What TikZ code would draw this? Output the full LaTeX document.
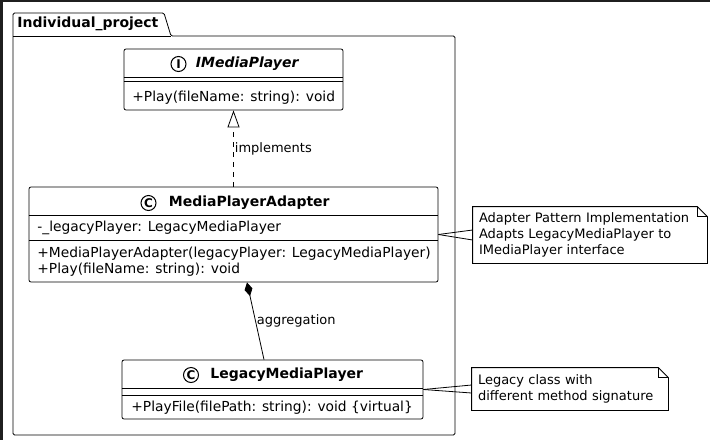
\documentclass[tikz,border=0pt]{standalone}
\usepackage{fontspec}
\setmainfont{DejaVu Sans}
\usetikzlibrary{positioning,arrows.meta}

\begin{document}
\begin{tikzpicture}[
    x=1pt, y=-1pt,
    line width=0.8pt,
    every node/.style={inner sep=0pt, font=\fontsize{13.8}{16}\selectfont},
    cls/.style={draw, rounded corners=2pt},
    icon/.style={draw, circle, line width=1pt, minimum size=15pt, font=\bfseries\fontsize{12}{12}\selectfont},
    small/.style={font=\fontsize{13}{16}\selectfont},
    notebox/.style={align=left, inner xsep=6pt, small}
]
\useasboundingbox (0,0) rectangle (710,440);
\fill[black!88] (0,0) rectangle (710,2);
\fill[black!88] (0,0) rectangle (3,440);

% 包
\draw[rounded corners=1.5pt] (13,435) -- (13,13) -- (164,13) -- (171,36) -- (455,36) -- (455,435) -- cycle;
\draw (13,36) -- (171,36);
\node[anchor=west, font=\bfseries\fontsize{14}{16}\selectfont] (pkgName) at (17,24) {Individual\_project};

% 类
\node[cls, minimum width=219pt, minimum height=61pt] (imp) at (233.5,79.5) {};
\node[cls, minimum width=409pt, minimum height=95pt] (adp) at (233.5,234.5) {};
\node[cls, minimum width=301pt, minimum height=59pt] (leg) at (272.5,389.5) {};

% 分隔线
\draw (imp.west |- 0,77) -- (imp.east |- 0,77);
\draw (imp.west |- 0,81) -- (imp.east |- 0,81);
\draw (adp.west |- 0,215) -- (adp.east |- 0,215);
\draw (adp.west |- 0,240) -- (adp.east |- 0,240);
\draw (leg.west |- 0,388) -- (leg.east |- 0,388);
\draw (leg.west |- 0,395) -- (leg.east |- 0,395);

% 标题
\node[icon] (impIcon) at (178.5,64) {I};
\node[right=9pt of impIcon, font=\bfseries\itshape\fontsize{14}{16}\selectfont] (impTitle) {IMediaPlayer};
\node[icon] (adpIcon) at (148.5,203) {C};
\node[right=12pt of adpIcon, font=\bfseries\fontsize{14}{16}\selectfont] (adpTitle) {MediaPlayerAdapter};
\node[icon] (legIcon) at (191,375) {C};
\node[right=11pt of legIcon, font=\bfseries\fontsize{14}{16}\selectfont] (legTitle) {LegacyMediaPlayer};

% 成员
\node[anchor=west] (impOps) at (132,98) {+Play(fileName: string): void};
\node[anchor=west] (adpAttr) at (37,228) {-\_legacyPlayer: LegacyMediaPlayer};
\node[anchor=west, align=left] (adpOps) at (37,262) {+MediaPlayerAdapter(legacyPlayer: LegacyMediaPlayer)\\+Play(fileName: string): void};
\node[anchor=west] (legOps) at (131,408) {+PlayFile(filePath: string): void \{virtual\}};

% 注释
\node[notebox, minimum width=234pt, minimum height=56pt, text width=222pt] (note1) at (590,235) {Adapter Pattern Implementation\\Adapts LegacyMediaPlayer to\\IMediaPlayer interface};
\node[notebox, minimum width=196pt, minimum height=42pt, text width=184pt] (note2) at (570,389) {Legacy class with\\different method signature};
\foreach \n in {note1, note2} {
  \draw (\n.north west) -- ([xshift=-10pt]\n.north east) -- ([yshift=-10pt]\n.north east) -- (\n.south east) -- (\n.south west) -- cycle;
  \draw ([xshift=-10pt]\n.north east) -- ([xshift=-10pt, yshift=-10pt]\n.north east) -- ([yshift=-10pt]\n.north east);
}

% 连接线
\draw[dash pattern=on 5pt off 5pt, -{Triangle[open, length=17pt, width=12pt]}] (adp.north) -- (imp.south) node[midway, right=1pt, small] (lblImpl) {implements};
\draw[{Diamond[length=14pt, width=8pt]}-] ([xshift=13.5pt]adp.south) -- ([xshift=-8.5pt]leg.north) node[midway, right=1pt, small] (lblAggr) {aggregation};
\draw (adp.east) -- ([yshift=5pt]note1.west);
\draw (adp.east) -- ([yshift=-5pt]note1.west);
\draw (leg.east) -- ([yshift=4pt]note2.west);
\draw (leg.east) -- ([yshift=-4pt]note2.west);

\end{tikzpicture}
\end{document}
